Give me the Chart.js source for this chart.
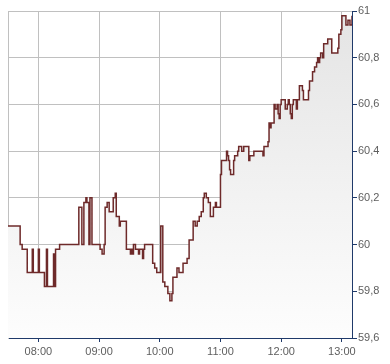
<!DOCTYPE html>
<html lang="de">
<head>
    <meta charset="UTF-8">
    <title>Intraday</title>
    <script src="https://cdn.jsdelivr.net/npm/chart.js"></script>
    <style>
        body { margin: 0; background: #ffffff; }
        #wrap { width: 390px; height: 364px; }
    </style>
</head>
<body>
    <div id="wrap"><canvas id="priceChart"></canvas></div>

    <script>
        // Kurs je Minute (Wert gilt ab dem Zeitpunkt)
        const times = [
            '07:30','07:42','07:44','07:49','07:54','07:55','08:00','08:01','08:06','08:08',
            '08:09','08:15','08:16','08:17','08:21','08:40','08:43','08:45','08:47','08:48',
            '08:50','08:51','08:53','09:01','09:03','09:05','09:06','09:08','09:10','09:14',
            '09:16','09:17','09:20','09:21','09:27','09:31','09:32','09:33','09:34','09:36',
            '09:39','09:40','09:43','09:44','09:45','09:53','09:55','09:57','10:01','10:03',
            '10:05','10:08','10:10','10:12','10:13','10:17','10:19','10:23','10:27','10:29',
            '10:33','10:35','10:37','10:39','10:41','10:43','10:44','10:46','10:48','10:50',
            '10:53','10:55','10:56','11:00','11:01','11:06','11:07','11:08','11:09','11:10',
            '11:13','11:14','11:17','11:18','11:21','11:23','11:28','11:29','11:33','11:42',
            '11:43','11:47','11:48','11:49','11:50','11:53','11:54','11:56','11:57','11:58',
            '11:59','12:00','12:04','12:06','12:07','12:08','12:09','12:10','12:11','12:12',
            '12:15','12:16','12:18','12:21','12:22','12:27','12:28','12:31','12:33','12:35',
            '12:36','12:37','12:38','12:39','12:41','12:42','12:46','12:50','12:56','12:57',
            '12:59','13:00','13:04','13:06','13:08','13:10'
        ];
        const prices = [
            60.08, 60.00, 59.98, 59.88, 59.98, 59.88, 59.98, 59.88, 59.82, 59.98,
            59.82, 59.96, 59.82, 59.98, 60.00, 60.16, 60.00, 60.18, 60.20, 60.18,
            60.00, 60.20, 60.00, 59.98, 59.96, 60.00, 60.16, 60.18, 60.14, 60.20,
            60.22, 60.12, 60.08, 60.10, 59.98, 59.96, 59.98, 59.96, 60.00, 59.98,
            59.96, 59.98, 59.94, 59.98, 60.00, 59.92, 59.90, 59.88, 60.08, 59.84,
            59.82, 59.79, 59.76, 59.79, 59.86, 59.90, 59.88, 59.92, 59.94, 60.02,
            60.10, 60.08, 60.10, 60.12, 60.14, 60.20, 60.22, 60.20, 60.18, 60.12,
            60.16, 60.18, 60.16, 60.30, 60.36, 60.40, 60.38, 60.36, 60.32, 60.30,
            60.36, 60.38, 60.40, 60.42, 60.40, 60.42, 60.36, 60.38, 60.40, 60.38,
            60.42, 60.44, 60.52, 60.50, 60.52, 60.60, 60.58, 60.60, 60.56, 60.54,
            60.60, 60.62, 60.58, 60.60, 60.62, 60.60, 60.56, 60.54, 60.60, 60.62,
            60.58, 60.62, 60.68, 60.66, 60.62, 60.66, 60.70, 60.74, 60.76, 60.78,
            60.80, 60.78, 60.80, 60.82, 60.80, 60.86, 60.88, 60.82, 60.84, 60.90,
            60.92, 60.98, 60.94, 60.96, 60.94, 60.98
        ];
        const hourTicks = ['08:00', '09:00', '10:00', '11:00', '12:00', '13:00'];
        const xRange = ['07:30', '13:10'];
        const yMin = 59.6, yMax = 61, yStep = 0.2;

        function toMin(s) {
            const p = s.split(':');
            return parseInt(p[0], 10) * 60 + parseInt(p[1], 10);
        }
        function toTime(m) {
            const h = Math.floor(m / 60), mm = Math.round(m % 60);
            return String(h).padStart(2, '0') + ':' + String(mm).padStart(2, '0');
        }

        const points = times.map((t, i) => ({ x: toMin(t), y: prices[i] }));
        const axisColor = '#1f3a6a';
        const gridColor = '#c0c0c0';
        const labelFont = { family: 'Arial, "Liberation Sans", sans-serif', size: 11 };

        const ctx = document.getElementById('priceChart').getContext('2d');
        const priceChart = new Chart(ctx, {
            type: 'line',
            data: {
                datasets: [{
                    data: points,
                    stepped: true,
                    borderColor: '#6e2a2a',
                    borderWidth: 1.5,
                    pointRadius: 0,
                    fill: 'start',
                    backgroundColor: (c) => {
                        const area = c.chart.chartArea;
                        if (!area) return '#eeeeee';
                        const g = c.chart.ctx.createLinearGradient(0, area.top, 0, area.bottom);
                        g.addColorStop(0, '#e4e4e4');
                        g.addColorStop(1, '#fdfdfd');
                        return g;
                    }
                }]
            },
            options: {
                responsive: true,
                maintainAspectRatio: false,
                animation: false,
                layout: { padding: { top: 11, left: 0, right: 0, bottom: 0 } },
                plugins: { legend: { display: false }, tooltip: { enabled: false } },
                scales: {
                    x: {
                        type: 'linear',
                        min: toMin(xRange[0]),
                        max: toMin(xRange[1]),
                        afterBuildTicks: (s) => { s.ticks = hourTicks.map(h => ({ value: toMin(h) })); },
                        afterFit: (s) => { s.height = 26; },
                        grid: { color: gridColor, tickColor: axisColor, tickLength: 4 },
                        border: { color: axisColor },
                        ticks: {
                            color: '#5e5e5e', font: labelFont, padding: 3, maxRotation: 0,
                            callback: (v) => toTime(v)
                        }
                    },
                    y: {
                        position: 'right',
                        min: yMin,
                        max: yMax,
                        afterFit: (s) => { s.width = 38; },
                        grid: { color: gridColor, tickColor: axisColor, tickLength: 5 },
                        border: { color: axisColor },
                        ticks: {
                            stepSize: yStep, color: '#5e5e5e', font: labelFont, padding: 1,
                            callback: (v) => String(Number(v.toFixed(1))).replace('.', ',')
                        }
                    },
                    frame: {
                        type: 'linear',
                        position: 'left',
                        min: yMin,
                        max: yMax,
                        afterFit: (s) => { s.width = 8; },
                        grid: { display: false },
                        border: { color: gridColor },
                        ticks: { display: false }
                    }
                }
            }
        });
    </script>
</body>
</html>
